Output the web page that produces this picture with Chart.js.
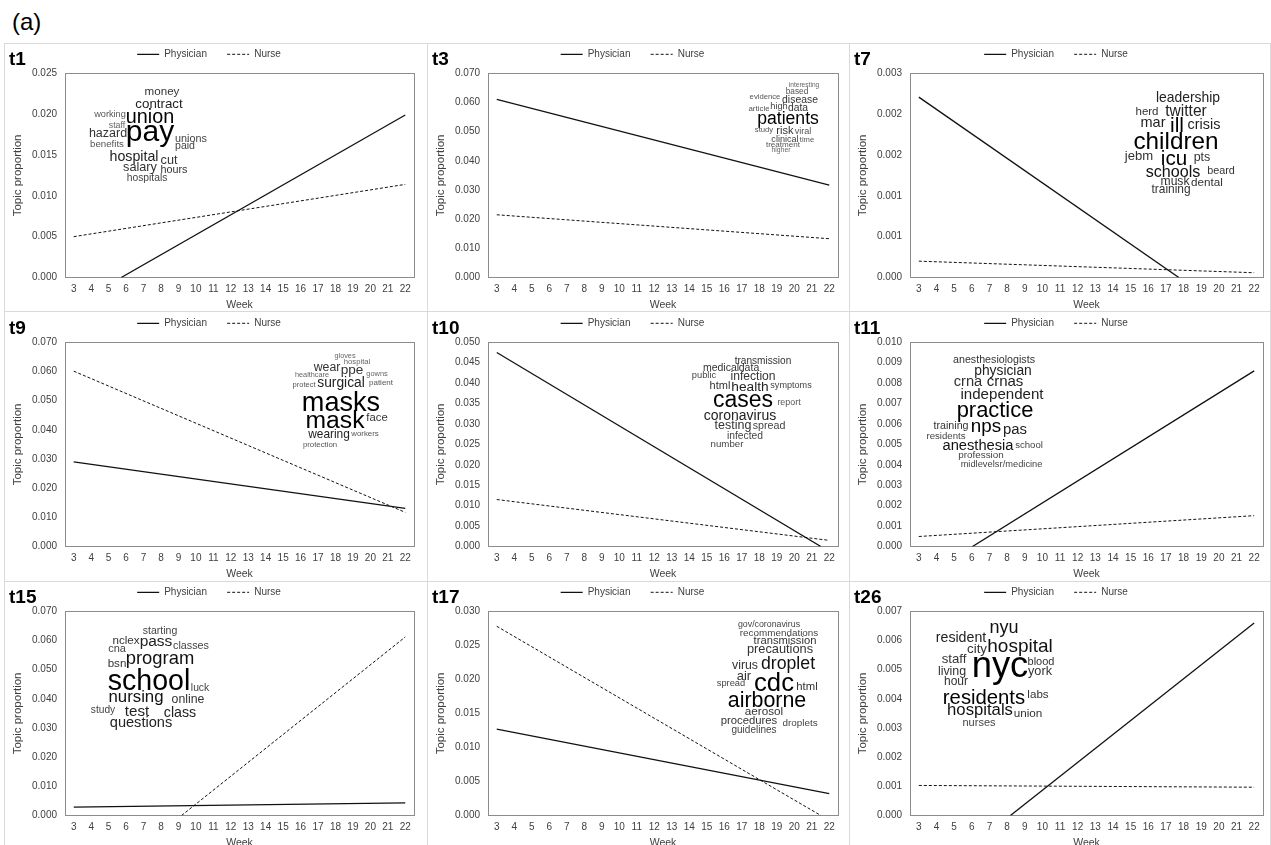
<!DOCTYPE html>
<html>
<head>
<meta charset="utf-8">
<script src="https://cdn.jsdelivr.net/npm/chart.js@4.4.0/dist/chart.umd.min.js"></script>
<style>
  body { margin: 0; width: 1271px; height: 845px; overflow: hidden; background: #fff; position: relative;
         font-family: "Liberation Sans", Arial, sans-serif; }
  #figLabel { position: absolute; left: 12px; top: 10px; font-size: 24px; line-height: 1; color: #000; }
  .cell { position: absolute; box-sizing: border-box; border-left: 1px solid #d9d9d9; border-top: 1px solid #d9d9d9; }
  canvas { position: absolute; }
</style>
</head>
<body>
<div id="figLabel">(a)</div>
<script>
// ---- data ----
const weeks = [3, 4, 5, 6, 7, 8, 9, 10, 11, 12, 13, 14, 15, 16, 17, 18, 19, 20, 21, 22];
const topics = ['t1', 't3', 't7', 't9', 't10', 't11', 't15', 't17', 't26'];
const seriesNames = ['Physician', 'Nurse'];
const yMax  = [0.025, 0.070, 0.003, 0.070, 0.050, 0.010, 0.070, 0.030, 0.007];
const yStep = [0.005, 0.010, 0.0006, 0.010, 0.005, 0.001, 0.010, 0.005, 0.001];

// trend lines: [week, topic proportion] at each visible end
const physicianStart = [[5.72, 0], [3, 0.0611], [3, 0.00265], [3, 0.0290], [3, 0.0475], [6.04, 0], [3, 0.0029], [3, 0.0127], [8.19, 0]];
const physicianEnd   = [[22, 0.0199], [22, 0.0317], [17.73, 0], [22, 0.0131], [21.52, 0], [22, 0.0086], [22, 0.0043], [22, 0.0032], [22, 0.0066]];
const nurseStart     = [[3, 0.0050], [3, 0.0215], [3, 0.00024], [3, 0.0601], [3, 0.0115], [3, 0.00049], [9.18, 0], [3, 0.0278], [3, 0.00103]];
const nurseEnd       = [[22, 0.0114], [22, 0.0133], [22, 0.00007], [22, 0.0117], [22, 0.0015], [22, 0.00151], [22, 0.0612], [21.52, 0], [22, 0.00097]];

// word clouds: [word, x, baseline y, font px, colour] in panel pixels
const cloudLayout = [
  [['money',158,52,11.6,'#333'],['contract',155,65,13.3,'#222'],['working',106,74,9.2,'#555'],['union',146,80,19.8,'#000'],
   ['staff',113,85,8.8,'#666'],['pay',146,98,30,'#000'],['hazard',104,94,12.5,'#333'],['benefits',103,104,9.7,'#555'],
   ['unions',187,99,10.8,'#444'],['paid',181,106,10.6,'#444'],['hospital',130,118,14.2,'#222'],['cut',165,121,12.7,'#333'],
   ['salary',136,128,12.7,'#333'],['hours',170,130,10.8,'#333'],['hospitals',143,138,10.3,'#444']],
  [['interesting',377,44,6.6,'#666'],['based',370,51,8.3,'#555'],['evidence',338,56,7.7,'#555'],['disease',373,60,10.4,'#333'],
   ['article',332,68,7.9,'#555'],['high',352,66,9.3,'#444'],['data',371,68,10.3,'#333'],['patients',361,81,17.6,'#000'],
   ['study',337,89,7.7,'#555'],['risk',358,91,11.1,'#333'],['viral',376,91,9.1,'#555'],['clinical',358,99,9.1,'#444'],
   ['time',380,99,7.6,'#555'],['treatment',356,104,8.1,'#555'],['higher',354,109,6.8,'#666']],
  [['leadership',339,59,13.9,'#222'],['herd',298,72,11.5,'#333'],['twitter',337,73,15.6,'#222'],['mar',304,84,14.5,'#222'],
   ['ill',328,89,21,'#000'],['crisis',355,86,14.4,'#222'],['children',327,106,24.3,'#000'],['jebm',290,117,13.1,'#333'],
   ['icu',325,122,20.6,'#000'],['pts',353,118,12.5,'#333'],['schools',324,134,16.1,'#111'],['beard',372,131,10.8,'#333'],
   ['musk',326,142,12.1,'#333'],['dental',358,143,11.7,'#333'],['training',322,150,11.9,'#333']],
  [['gloves',341,46,7.3,'#666'],['hospital',353,52,7.7,'#666'],['wear',323,59,12.3,'#333'],['ppe',348,62,13.6,'#333'],
   ['healthcare',308,65,7.3,'#666'],['gowns',373,64,7.4,'#666'],['protect',300,75,7.5,'#555'],['surgical',337,75,13.8,'#222'],
   ['patient',377,73,8,'#555'],['masks',337,99,27.1,'#000'],['mask',331,116,24.7,'#000'],['face',373,109,11.3,'#333'],
   ['wearing',325,126,11.9,'#222'],['workers',361,124,7.9,'#555'],['protection',316,135,7.8,'#555']],
  [['transmission',336,52,10.1,'#333'],['medical',294,59,10.5,'#333'],['data',322,59,10.5,'#333'],['public',277,66,9.3,'#444'],
   ['infection',326,68,12.1,'#333'],['html',293,77,11,'#333'],['health',323,79,13.7,'#222'],['symptoms',364,76,9.1,'#444'],
   ['cases',316,95,23,'#000'],['report',362,93,8.9,'#555'],['coronavirus',313,108,14,'#222'],['testing',306,117,12.5,'#333'],
   ['spread',342,117,10.7,'#444'],['infected',318,127,10.3,'#444'],['number',300,135,9.7,'#444']],
  [['anesthesiologists',145,51,10.7,'#333'],['physician',154,63,13.8,'#222'],['crna',119,74,14.7,'#333'],['crnas',156,74,15,'#222'],
   ['independent',153,87,15.1,'#222'],['practice',146,105,21.9,'#000'],['training',102,117,10.7,'#333'],['nps',137,120,18.8,'#000'],
   ['pas',166,122,14.9,'#222'],['residents',97,127,9.6,'#444'],['anesthesia',129,138,14.7,'#111'],['school',180,136,9.6,'#444'],
   ['profession',132,146,9.9,'#444'],['midlevels',131,155,9.3,'#444'],['r/medicine',172,155,9.3,'#444']],
  [['starting',156,53,10.5,'#444'],['nclex',122,63,11.6,'#333'],['pass',152,65,15.5,'#222'],['classes',187,68,10.8,'#444'],
   ['cna',113,71,11,'#444'],['bsn',113,86,11.6,'#333'],['program',156,83,18.4,'#111'],['school',145,109,28.6,'#000'],
   ['luck',196,110,10.3,'#444'],['nursing',132,121,16.8,'#111'],['online',184,122,12.3,'#333'],['study',99,132,10.2,'#444'],
   ['test',133,135,15.1,'#222'],['class',176,136,14.2,'#222'],['questions',137,146,14.6,'#222']],
  [['gov/coronavirus',342,46,8.8,'#444'],['recommendations',352,55,9.9,'#444'],['transmission',358,63,11.2,'#333'],
   ['precautions',353,72,12.8,'#333'],['virus',318,88,12.3,'#333'],['droplet',361,88,17.7,'#111'],['air',317,99,12.9,'#333'],
   ['spread',304,105,9.3,'#444'],['cdc',347,110,25.7,'#000'],['html',380,109,11.3,'#333'],['airborne',340,126,21.4,'#000'],
   ['aerosol',337,134,11.7,'#333'],['procedures',322,143,11.3,'#333'],['droplets',373,145,9.9,'#444'],['guidelines',327,152,10,'#444']],
  [['nyu',155,52,18,'#111'],['resident',112,61,14.2,'#222'],['city',128,72,13.3,'#333'],['hospital',171,71,19,'#111'],
   ['staff',105,82,13.2,'#333'],['nyc',151,96,36.4,'#000'],['blood',192,84,11,'#333'],['york',191,94,12.7,'#333'],
   ['living',103,94,12.4,'#333'],['hour',107,104,12,'#333'],['residents',135,123,20.3,'#000'],['labs',189,117,11.6,'#333'],
   ['hospitals',131,134,16.7,'#111'],['union',179,136,11.7,'#333'],['nurses',130,145,11,'#444']]
];

// ---- page grid ----
const colX = [4, 427, 849];
const colW = [423, 422, 422];
const rowY = [43, 311, 581];
const canvasTop = [43, 312, 581];
const padRight = [13, 11, 8];
const FONT = '"Liberation Sans", Arial, sans-serif';
const TEXT = '#404040';

Chart.defaults.font.family = FONT;

// plot frame, panel tag and word cloud
function makeDecor(title, words) {
  return {
    id: 'decor',
    afterInit(chart) {
      // a bit more room between legend and plot, like the Excel original
      const legend = chart.legend;
      const fit = legend.fit;
      legend.fit = function () { fit.call(this); this.height += 4; };
    },
    beforeDatasetsDraw(chart) {
      const { ctx, chartArea: a } = chart;
      ctx.save();
      ctx.strokeStyle = '#8c8c8c';
      ctx.lineWidth = 1;
      ctx.strokeRect(Math.round(a.left) + 0.5, Math.round(a.top) + 0.5, Math.round(a.width), Math.round(a.height));
      ctx.restore();
    },
    afterDraw(chart) {
      const ctx = chart.ctx;
      ctx.save();
      ctx.textBaseline = 'alphabetic';
      ctx.textAlign = 'left';
      ctx.fillStyle = '#000';
      ctx.font = 'bold 19px ' + FONT;
      ctx.fillText(title, 5, 21.5);
      ctx.textAlign = 'center';
      words.forEach(([text, x, y, size, color]) => {
        ctx.font = size + 'px ' + FONT;
        ctx.fillStyle = color;
        ctx.fillText(text, x, y);
      });
      ctx.restore();
    }
  };
}

for (let r = 0; r < 3; r++) {
  for (let c = 0; c < 3; c++) {
    const cell = document.createElement('div');
    cell.className = 'cell';
    cell.style.left = colX[c] + 'px';
    cell.style.top = rowY[r] + 'px';
    cell.style.width = ((c < 2 ? colX[c + 1] : 1271) - colX[c]) + 'px';
    cell.style.height = ((r < 2 ? rowY[r + 1] : 850) - rowY[r]) + 'px';
    if (c === 2) cell.style.borderRight = '1px solid #d9d9d9';
    document.body.appendChild(cell);
  }
}

const toPoint = ([x, y]) => ({ x, y });

topics.forEach((topic, i) => {
  const col = i % 3, row = Math.floor(i / 3);
  const canvas = document.createElement('canvas');
  canvas.width = colW[col];
  canvas.height = 268;
  canvas.style.left = colX[col] + 'px';
  canvas.style.top = canvasTop[row] + 'px';
  document.body.appendChild(canvas);

  new Chart(canvas, {
    type: 'line',
    data: {
      datasets: [
        {
          label: seriesNames[0],
          data: [physicianStart[i], physicianEnd[i]].map(toPoint),
          borderColor: '#111',
          borderWidth: 1.3,
          pointRadius: 0
        },
        {
          label: seriesNames[1],
          data: [nurseStart[i], nurseEnd[i]].map(toPoint),
          borderColor: '#111',
          borderWidth: 1,
          borderDash: [3, 2],
          pointRadius: 0
        }
      ]
    },
    options: {
      responsive: false,
      animation: false,
      devicePixelRatio: 1,
      layout: { padding: { top: 0, right: padRight[col], bottom: 0, left: 0 } },
      plugins: {
        tooltip: { enabled: false },
        legend: {
          position: 'top',
          labels: {
            usePointStyle: true,
            pointStyle: 'line',
            pointStyleWidth: 22,
            padding: 6.3,
            font: { size: 10 },
            color: TEXT,
            generateLabels: (ch) => ch.data.datasets.map((ds, k) => ({
              text: ds.label + (k === 0 ? '     ' : ''),
              strokeStyle: ds.borderColor,
              lineWidth: ds.borderWidth,
              lineDash: ds.borderDash || [],
              pointStyle: 'line',
              fontColor: TEXT,
              datasetIndex: k
            }))
          }
        }
      },
      scales: {
        x: {
          type: 'linear',
          min: 2.5,
          max: 22.5,
          afterBuildTicks: (axis) => { axis.ticks = weeks.map(w => ({ value: w })); },
          grid: { display: false, drawTicks: false },
          border: { display: false },
          ticks: { autoSkip: false, maxRotation: 0, padding: 6, font: { size: 10 }, color: TEXT, callback: (v) => String(v) },
          // negative top padding only tightens the axis height; the title stays anchored at the bottom
          title: { display: true, text: 'Week', font: { size: 10.5 }, color: TEXT, padding: { top: -3.1, bottom: 0 } }
        },
        y: {
          min: 0,
          max: yMax[i],
          afterFit: (scale) => { scale.width = 61; },
          grid: { display: false, drawTicks: false },
          border: { display: false },
          ticks: { stepSize: yStep[i], padding: 8, font: { size: 10 }, color: TEXT, callback: (v) => v.toFixed(3) },
          title: { display: true, text: 'Topic proportion', font: { size: 11.5 }, color: TEXT, padding: { top: 7, bottom: 0 } }
        }
      }
    },
    plugins: [makeDecor(topic, cloudLayout[i])]
  });
});
</script>
</body>
</html>
